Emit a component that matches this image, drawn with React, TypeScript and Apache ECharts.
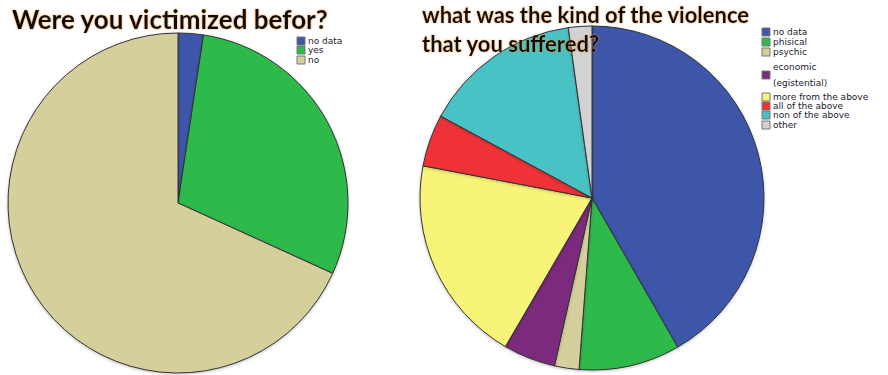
import React, { useEffect, useRef } from "react";
import * as echarts from "echarts";

const victimCategories = ["no data", "yes", "no"];
const victimValues = [2.4, 29.4, 68.2];
const victimColors = ["#3D57A9", "#2EB94B", "#D4CF9B"];

const violenceCategories = [
  "no data",
  "phisical",
  "psychic",
  "economic\n(egistential)",
  "more from the above",
  "all of the above",
  "non of the above",
  "other",
];
const violenceValues = [41.7, 9.5, 2.3, 4.9, 19.6, 4.9, 14.9, 2.2];
const violenceColors = [
  "#3D57A9",
  "#2EB94B",
  "#D4CF9B",
  "#7C2A7D",
  "#F8F47A",
  "#EF3339",
  "#48C2C6",
  "#D2D2D2",
];

// legend layout (y of each item's center)
const leftLegendY = [41, 50, 60];
const rightLegendY = [32, 42, 52, 75, 97, 106, 115, 125];

export default function App() {
  const ref = useRef<HTMLDivElement>(null);
  useEffect(() => {
    document.body.style.margin = "0";
    const chart = echarts.init(ref.current!, null, { renderer: "svg" });

    const legendItems = (
      names: string[],
      colors: string[],
      ys: number[],
      x: number
    ) => {
      const els: any[] = [];
      names.forEach((n, i) => {
        const multi = n.indexOf("\n") >= 0;
        els.push({
          type: "rect",
          shape: { x: x, y: ys[i] - 4, width: 8, height: 8 },
          style: { fill: colors[i], stroke: "#777", lineWidth: 1 },
        });
        els.push({
          type: "text",
          x: x + 11,
          y: ys[i],
          style: {
            text: n,
            fill: "#1a1a2e",
            fontFamily: "'DejaVu Sans', sans-serif",
            fontSize: 9,
            verticalAlign: "middle",
            lineHeight: multi ? 16 : 9,
          },
        });
      });
      return els;
    };

    const titleStyle = {
      fill: "#111",
      fontFamily: "Lato, 'Open Sans', sans-serif",
      fontWeight: "bold",
      textShadowColor: "rgba(235,140,40,0.75)",
      textShadowBlur: 2,
    };

    chart.setOption({
      animation: false,
      graphic: [
        {
          type: "text",
          x: 12,
          y: 6,
          z: 10,
          style: {
            ...titleStyle,
            text: "Were you victimized befor?",
            fontSize: 26,
          },
        },
        {
          type: "text",
          x: 422,
          y: 0,
          z: 10,
          style: {
            ...titleStyle,
            text: "what was the kind of the violence\nthat you suffered?",
            fontSize: 22,
            lineHeight: 29,
          },
        },
        ...legendItems(victimCategories, victimColors, leftLegendY, 297),
        ...legendItems(violenceCategories, violenceColors, rightLegendY, 762),
      ],
      series: [
        {
          type: "pie",
          center: [178, 203],
          radius: 170,
          startAngle: 90,
          clockwise: true,
          label: { show: false },
          labelLine: { show: false },
          itemStyle: {
            borderColor: "#333",
            borderWidth: 1,
            shadowColor: "rgba(0,0,0,0.25)",
            shadowBlur: 3,
            shadowOffsetY: 1,
          },
          emphasis: { disabled: true },
          data: victimCategories.map((n, i) => ({
            name: n,
            value: victimValues[i],
            itemStyle: { color: victimColors[i] },
          })),
        },
        {
          type: "pie",
          center: [592, 198],
          radius: 172,
          startAngle: 90,
          clockwise: true,
          label: { show: false },
          labelLine: { show: false },
          itemStyle: {
            borderColor: "#333",
            borderWidth: 1,
            shadowColor: "rgba(0,0,0,0.25)",
            shadowBlur: 3,
            shadowOffsetY: 1,
          },
          emphasis: { disabled: true },
          data: violenceCategories.map((n, i) => ({
            name: n,
            value: violenceValues[i],
            itemStyle: { color: violenceColors[i] },
          })),
        },
      ],
    });
    return () => chart.dispose();
  }, []);
  return <div ref={ref} style={{ width: 888, height: 375 }} />;
}
